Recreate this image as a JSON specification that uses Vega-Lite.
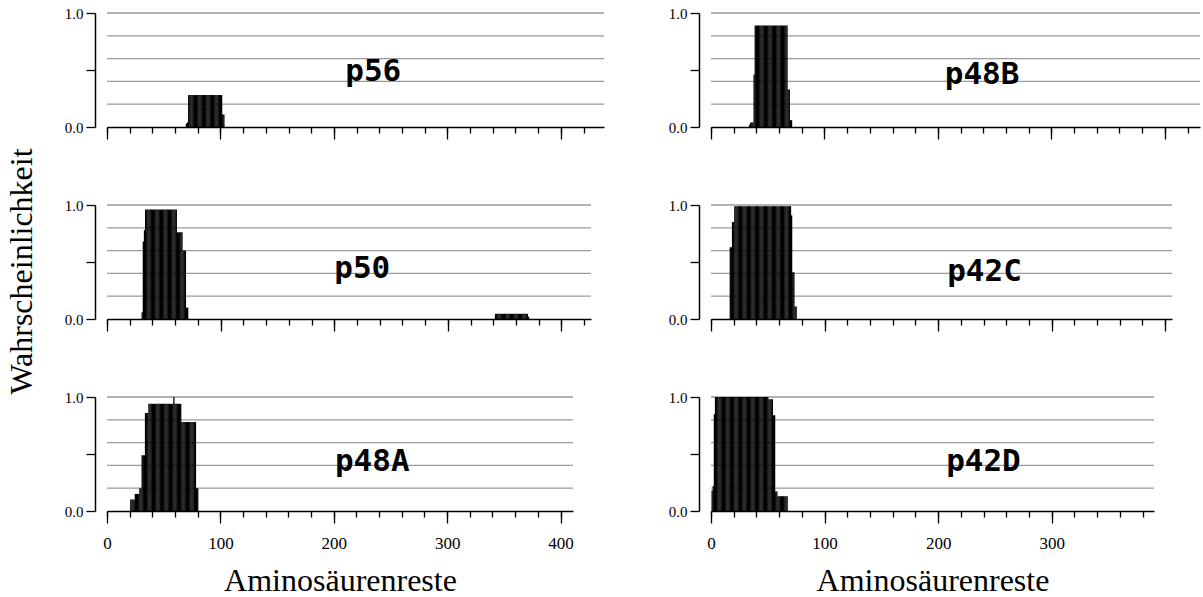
{
  "$schema": "https://vega.github.io/schema/vega-lite/v6.json",
  "padding": {"left": 5, "top": 6, "right": 0, "bottom": 0},
  "background": "white",
  "datasets": {
    "grid": [{"g": 0.2}, {"g": 0.4}, {"g": 0.6}, {"g": 0.8}, {"g": 1.0}],
    "p56": [
      {"r":70,"v":0.03},{"r":71,"v":0.04},
      {"r":72,"v":0.28},{"r":73,"v":0.28},{"r":74,"v":0.28},{"r":75,"v":0.28},{"r":76,"v":0.28},{"r":77,"v":0.28},{"r":78,"v":0.28},{"r":79,"v":0.28},{"r":80,"v":0.28},{"r":81,"v":0.28},
      {"r":82,"v":0.28},{"r":83,"v":0.28},{"r":84,"v":0.28},{"r":85,"v":0.28},{"r":86,"v":0.28},{"r":87,"v":0.28},{"r":88,"v":0.28},{"r":89,"v":0.28},{"r":90,"v":0.28},{"r":91,"v":0.28},
      {"r":92,"v":0.28},{"r":93,"v":0.28},{"r":94,"v":0.28},{"r":95,"v":0.28},{"r":96,"v":0.28},{"r":97,"v":0.28},{"r":98,"v":0.28},{"r":99,"v":0.28},{"r":100,"v":0.28},{"r":101,"v":0.28},
      {"r":102,"v":0.11},{"r":103,"v":0.11}
    ],
    "p50": [
      {"r":31,"v":0.06},{"r":32,"v":0.68},{"r":33,"v":0.78},
      {"r":34,"v":0.96},{"r":35,"v":0.96},{"r":36,"v":0.96},{"r":37,"v":0.96},{"r":38,"v":0.96},{"r":39,"v":0.96},{"r":40,"v":0.96},{"r":41,"v":0.96},{"r":42,"v":0.96},{"r":43,"v":0.96},
      {"r":44,"v":0.96},{"r":45,"v":0.96},{"r":46,"v":0.96},{"r":47,"v":0.96},{"r":48,"v":0.96},{"r":49,"v":0.96},{"r":50,"v":0.96},{"r":51,"v":0.96},{"r":52,"v":0.96},{"r":53,"v":0.96},
      {"r":54,"v":0.96},{"r":55,"v":0.96},{"r":56,"v":0.96},{"r":57,"v":0.96},{"r":58,"v":0.96},{"r":59,"v":0.96},{"r":60,"v":0.96},{"r":61,"v":0.96},
      {"r":62,"v":0.76},{"r":63,"v":0.76},{"r":64,"v":0.76},{"r":65,"v":0.76},{"r":66,"v":0.76},
      {"r":67,"v":0.6},{"r":68,"v":0.6},{"r":69,"v":0.6},
      {"r":70,"v":0.1},{"r":71,"v":0.1},
      {"r":342,"v":0.045},{"r":343,"v":0.045},{"r":344,"v":0.045},{"r":345,"v":0.045},{"r":346,"v":0.045},{"r":347,"v":0.045},{"r":348,"v":0.045},{"r":349,"v":0.045},{"r":350,"v":0.045},{"r":351,"v":0.045},
      {"r":352,"v":0.045},{"r":353,"v":0.045},{"r":354,"v":0.045},{"r":355,"v":0.045},{"r":356,"v":0.045},{"r":357,"v":0.045},{"r":358,"v":0.045},{"r":359,"v":0.045},{"r":360,"v":0.045},{"r":361,"v":0.045},
      {"r":362,"v":0.045},{"r":363,"v":0.045},{"r":364,"v":0.045},{"r":365,"v":0.045},{"r":366,"v":0.045},{"r":367,"v":0.045},{"r":368,"v":0.045},{"r":369,"v":0.045},{"r":370,"v":0.045},
      {"r":371,"v":0.02}
    ],
    "p48A": [
      {"r":21,"v":0.1},{"r":22,"v":0.1},{"r":23,"v":0.1},{"r":24,"v":0.1},
      {"r":25,"v":0.15},{"r":26,"v":0.15},{"r":27,"v":0.15},{"r":28,"v":0.15},
      {"r":29,"v":0.2},{"r":30,"v":0.2},
      {"r":31,"v":0.49},{"r":32,"v":0.49},{"r":33,"v":0.49},
      {"r":34,"v":0.86},{"r":35,"v":0.86},{"r":36,"v":0.86},
      {"r":37,"v":0.94},{"r":38,"v":0.94},{"r":39,"v":0.94},{"r":40,"v":0.94},{"r":41,"v":0.94},{"r":42,"v":0.94},{"r":43,"v":0.94},{"r":44,"v":0.94},{"r":45,"v":0.94},{"r":46,"v":0.94},
      {"r":47,"v":0.94},{"r":48,"v":0.94},{"r":49,"v":0.94},{"r":50,"v":0.94},{"r":51,"v":0.94},{"r":52,"v":0.94},{"r":53,"v":0.94},{"r":54,"v":0.94},{"r":55,"v":0.94},{"r":56,"v":0.94},
      {"r":57,"v":0.94},{"r":58,"v":0.94},{"r":59,"v":1.0},{"r":60,"v":0.94},{"r":61,"v":0.94},{"r":62,"v":0.94},{"r":63,"v":0.94},{"r":64,"v":0.94},{"r":65,"v":0.94},
      {"r":66,"v":0.78},{"r":67,"v":0.78},{"r":68,"v":0.78},{"r":69,"v":0.78},{"r":70,"v":0.78},{"r":71,"v":0.78},{"r":72,"v":0.78},{"r":73,"v":0.78},{"r":74,"v":0.78},{"r":75,"v":0.78},
      {"r":76,"v":0.78},{"r":77,"v":0.78},{"r":78,"v":0.78},
      {"r":79,"v":0.2},{"r":80,"v":0.2}
    ],
    "p48B": [
      {"r":34,"v":0.02},{"r":35,"v":0.04},{"r":36,"v":0.04},{"r":37,"v":0.04},{"r":38,"v":0.46},
      {"r":39,"v":0.89},{"r":40,"v":0.89},{"r":41,"v":0.89},{"r":42,"v":0.89},{"r":43,"v":0.89},{"r":44,"v":0.89},{"r":45,"v":0.89},{"r":46,"v":0.89},{"r":47,"v":0.89},{"r":48,"v":0.89},
      {"r":49,"v":0.89},{"r":50,"v":0.89},{"r":51,"v":0.89},{"r":52,"v":0.89},{"r":53,"v":0.89},{"r":54,"v":0.89},{"r":55,"v":0.89},{"r":56,"v":0.89},{"r":57,"v":0.89},{"r":58,"v":0.89},
      {"r":59,"v":0.89},{"r":60,"v":0.89},{"r":61,"v":0.89},{"r":62,"v":0.89},{"r":63,"v":0.89},{"r":64,"v":0.89},{"r":65,"v":0.89},{"r":66,"v":0.89},{"r":67,"v":0.89},
      {"r":68,"v":0.33},{"r":69,"v":0.33},{"r":70,"v":0.06},{"r":71,"v":0.06}
    ],
    "p42C": [
      {"r":17,"v":0.63},{"r":18,"v":0.63},{"r":19,"v":0.85},{"r":20,"v":0.85},
      {"r":21,"v":0.99},{"r":22,"v":0.99},{"r":23,"v":0.99},{"r":24,"v":0.99},{"r":25,"v":0.99},{"r":26,"v":0.99},{"r":27,"v":0.99},{"r":28,"v":0.99},{"r":29,"v":0.99},{"r":30,"v":0.99},
      {"r":31,"v":0.99},{"r":32,"v":0.99},{"r":33,"v":0.99},{"r":34,"v":0.99},{"r":35,"v":0.99},{"r":36,"v":0.99},{"r":37,"v":0.99},{"r":38,"v":0.99},{"r":39,"v":0.99},{"r":40,"v":0.99},
      {"r":41,"v":0.99},{"r":42,"v":0.99},{"r":43,"v":0.99},{"r":44,"v":0.99},{"r":45,"v":0.99},{"r":46,"v":0.99},{"r":47,"v":0.99},{"r":48,"v":0.99},{"r":49,"v":0.99},{"r":50,"v":0.99},
      {"r":51,"v":0.99},{"r":52,"v":0.99},{"r":53,"v":0.99},{"r":54,"v":0.99},{"r":55,"v":0.99},{"r":56,"v":0.99},{"r":57,"v":0.99},{"r":58,"v":0.99},{"r":59,"v":0.99},{"r":60,"v":0.99},
      {"r":61,"v":0.99},{"r":62,"v":0.99},{"r":63,"v":0.99},{"r":64,"v":0.99},{"r":65,"v":0.99},{"r":66,"v":0.99},{"r":67,"v":0.99},{"r":68,"v":0.99},{"r":69,"v":0.99},{"r":70,"v":0.99},
      {"r":71,"v":0.91},{"r":72,"v":0.41},{"r":73,"v":0.41},{"r":74,"v":0.11},{"r":75,"v":0.11}
    ],
    "p42D": [
      {"r":1,"v":0.18},{"r":2,"v":0.22},{"r":3,"v":0.85},
      {"r":4,"v":1.0},{"r":5,"v":1.0},{"r":6,"v":1.0},{"r":7,"v":1.0},{"r":8,"v":1.0},{"r":9,"v":1.0},{"r":10,"v":1.0},{"r":11,"v":1.0},{"r":12,"v":1.0},{"r":13,"v":1.0},
      {"r":14,"v":1.0},{"r":15,"v":1.0},{"r":16,"v":1.0},{"r":17,"v":1.0},{"r":18,"v":1.0},{"r":19,"v":1.0},{"r":20,"v":1.0},{"r":21,"v":1.0},{"r":22,"v":1.0},{"r":23,"v":1.0},
      {"r":24,"v":1.0},{"r":25,"v":1.0},{"r":26,"v":1.0},{"r":27,"v":1.0},{"r":28,"v":1.0},{"r":29,"v":1.0},{"r":30,"v":1.0},{"r":31,"v":1.0},{"r":32,"v":1.0},{"r":33,"v":1.0},
      {"r":34,"v":1.0},{"r":35,"v":1.0},{"r":36,"v":1.0},{"r":37,"v":1.0},{"r":38,"v":1.0},{"r":39,"v":1.0},{"r":40,"v":1.0},{"r":41,"v":1.0},{"r":42,"v":1.0},{"r":43,"v":1.0},
      {"r":44,"v":1.0},{"r":45,"v":1.0},{"r":46,"v":1.0},{"r":47,"v":1.0},{"r":48,"v":1.0},{"r":49,"v":1.0},{"r":50,"v":1.0},
      {"r":51,"v":0.98},{"r":52,"v":0.98},{"r":53,"v":0.98},{"r":54,"v":0.98},
      {"r":55,"v":0.84},{"r":56,"v":0.84},{"r":57,"v":0.17},{"r":58,"v":0.17},
      {"r":59,"v":0.13},{"r":60,"v":0.13},{"r":61,"v":0.13},{"r":62,"v":0.13},{"r":63,"v":0.13},{"r":64,"v":0.13},{"r":65,"v":0.13},{"r":66,"v":0.13},{"r":67,"v":0.13}
    ]
  },
  "columns": 2,
  "align": "each",
  "bounds": "flush",
  "spacing": {"row": 78, "column": 107},
  "concat": [
    {
      "width": 497, "height": 114,
      "resolve": {"axis": {"x": "independent"}},
      "layer": [
        {"data": {"name": "grid"}, "mark": {"type": "rule", "color": "#9a9a9a", "strokeWidth": 1.3},
         "encoding": {"y": {"field": "g", "type": "quantitative", "scale": {"domain": [0, 1], "nice": false},
                            "axis": {"values": [0, 0.5, 1], "title": null}}}},
        {"data": {"name": "p56"}, "mark": {"type": "rule", "color": "black", "strokeWidth": 1.3},
         "encoding": {
           "x": {"field": "r", "type": "quantitative", "scale": {"domain": [0, 438], "nice": false, "zero": false},
                 "axis": {"orient": "bottom", "values": [0,20,40,60,80,100,120,140,160,180,200,220,240,260,280,300,320,340,360,380,400,420], "labels": false, "title": null, "tickSize": 6}},
           "y": {"field": "v", "type": "quantitative"},
           "y2": {"datum": 0}}},
        {"data": {"values": [{"name": "p56"}]},
         "mark": {"type": "text", "font": "DejaVu Sans Mono", "fontWeight": "bold", "fontSize": 31, "align": "left", "baseline": "alphabetic", "color": "black"},
         "encoding": {"x": {"datum": 210, "type": "quantitative",
                            "axis": {"orient": "bottom", "values": [0,100,200,300,400], "labels": false, "title": null, "tickSize": 12, "domain": false}},
                      "y": {"datum": 0.4, "type": "quantitative"}, "text": {"field": "name"}}}
      ]
    },
    {
      "width": 489, "height": 114,
      "resolve": {"axis": {"x": "independent"}},
      "layer": [
        {"data": {"name": "grid"}, "mark": {"type": "rule", "color": "#9a9a9a", "strokeWidth": 1.3},
         "encoding": {"y": {"field": "g", "type": "quantitative", "scale": {"domain": [0, 1], "nice": false},
                            "axis": {"values": [0, 0.5, 1], "title": null}}}},
        {"data": {"name": "p48B"}, "mark": {"type": "rule", "color": "black", "strokeWidth": 1.3},
         "encoding": {
           "x": {"field": "r", "type": "quantitative", "scale": {"domain": [0, 431], "nice": false, "zero": false},
                 "axis": {"orient": "bottom", "values": [0,20,40,60,80,100,120,140,160,180,200,220,240,260,280,300,320,340,360,380,400,420], "labels": false, "title": null, "tickSize": 6}},
           "y": {"field": "v", "type": "quantitative"},
           "y2": {"datum": 0}}},
        {"data": {"values": [{"name": "p48B"}]},
         "mark": {"type": "text", "font": "DejaVu Sans Mono", "fontWeight": "bold", "fontSize": 31, "align": "left", "baseline": "alphabetic", "color": "black"},
         "encoding": {"x": {"datum": 206, "type": "quantitative",
                            "axis": {"orient": "bottom", "values": [0,100,200,300,400], "labels": false, "title": null, "tickSize": 12, "domain": false}},
                      "y": {"datum": 0.38, "type": "quantitative"}, "text": {"field": "name"}}}
      ]
    },
    {
      "width": 484, "height": 114,
      "resolve": {"axis": {"x": "independent"}},
      "layer": [
        {"data": {"name": "grid"}, "mark": {"type": "rule", "color": "#9a9a9a", "strokeWidth": 1.3},
         "encoding": {"y": {"field": "g", "type": "quantitative", "scale": {"domain": [0, 1], "nice": false},
                            "axis": {"values": [0, 0.5, 1], "title": "Wahrscheinlichkeit", "titleFontSize": 32, "titlePadding": 26, "titleY": 66}}}},
        {"data": {"name": "p50"}, "mark": {"type": "rule", "color": "black", "strokeWidth": 1.3},
         "encoding": {
           "x": {"field": "r", "type": "quantitative", "scale": {"domain": [0, 426], "nice": false, "zero": false},
                 "axis": {"orient": "bottom", "values": [0,20,40,60,80,100,120,140,160,180,200,220,240,260,280,300,320,340,360,380,400,420], "labels": false, "title": null, "tickSize": 6}},
           "y": {"field": "v", "type": "quantitative"},
           "y2": {"datum": 0}}},
        {"data": {"values": [{"name": "p50"}]},
         "mark": {"type": "text", "font": "DejaVu Sans Mono", "fontWeight": "bold", "fontSize": 31, "align": "left", "baseline": "alphabetic", "color": "black"},
         "encoding": {"x": {"datum": 200, "type": "quantitative",
                            "axis": {"orient": "bottom", "values": [0,100,200,300,400], "labels": false, "title": null, "tickSize": 12, "domain": false}},
                      "y": {"datum": 0.36, "type": "quantitative"}, "text": {"field": "name"}}}
      ]
    },
    {
      "width": 461, "height": 114,
      "resolve": {"axis": {"x": "independent"}},
      "layer": [
        {"data": {"name": "grid"}, "mark": {"type": "rule", "color": "#9a9a9a", "strokeWidth": 1.3},
         "encoding": {"y": {"field": "g", "type": "quantitative", "scale": {"domain": [0, 1], "nice": false},
                            "axis": {"values": [0, 0.5, 1], "title": null}}}},
        {"data": {"name": "p42C"}, "mark": {"type": "rule", "color": "black", "strokeWidth": 1.3},
         "encoding": {
           "x": {"field": "r", "type": "quantitative", "scale": {"domain": [0, 406], "nice": false, "zero": false},
                 "axis": {"orient": "bottom", "values": [0,20,40,60,80,100,120,140,160,180,200,220,240,260,280,300,320,340,360,380,400], "labels": false, "title": null, "tickSize": 6}},
           "y": {"field": "v", "type": "quantitative"},
           "y2": {"datum": 0}}},
        {"data": {"values": [{"name": "p42C"}]},
         "mark": {"type": "text", "font": "DejaVu Sans Mono", "fontWeight": "bold", "fontSize": 31, "align": "left", "baseline": "alphabetic", "color": "black"},
         "encoding": {"x": {"datum": 208, "type": "quantitative",
                            "axis": {"orient": "bottom", "values": [0,100,200,300,400], "labels": false, "title": null, "tickSize": 12, "domain": false}},
                      "y": {"datum": 0.33, "type": "quantitative"}, "text": {"field": "name"}}}
      ]
    },
    {
      "width": 466, "height": 114,
      "resolve": {"axis": {"x": "independent"}},
      "layer": [
        {"data": {"name": "grid"}, "mark": {"type": "rule", "color": "#9a9a9a", "strokeWidth": 1.3},
         "encoding": {"y": {"field": "g", "type": "quantitative", "scale": {"domain": [0, 1], "nice": false},
                            "axis": {"values": [0, 0.5, 1], "title": null}}}},
        {"data": {"name": "p48A"}, "mark": {"type": "rule", "color": "black", "strokeWidth": 1.3},
         "encoding": {
           "x": {"field": "r", "type": "quantitative", "scale": {"domain": [0, 411], "nice": false, "zero": false},
                 "axis": {"orient": "bottom", "values": [0,20,40,60,80,100,120,140,160,180,200,220,240,260,280,300,320,340,360,380,400], "labels": false, "title": null, "tickSize": 6}},
           "y": {"field": "v", "type": "quantitative"},
           "y2": {"datum": 0}}},
        {"data": {"values": [{"name": "p48A"}]},
         "mark": {"type": "text", "font": "DejaVu Sans Mono", "fontWeight": "bold", "fontSize": 31, "align": "left", "baseline": "alphabetic", "color": "black"},
         "encoding": {"x": {"datum": 201, "type": "quantitative",
                            "axis": {"orient": "bottom", "values": [0,100,200,300,400], "tickSize": 12, "domain": false, "labelPadding": 12,
                                     "title": "Aminosäurenreste", "titleFontSize": 32, "titlePadding": 14}},
                      "y": {"datum": 0.35, "type": "quantitative"}, "text": {"field": "name"}}}
      ]
    },
    {
      "width": 443, "height": 114,
      "resolve": {"axis": {"x": "independent"}},
      "layer": [
        {"data": {"name": "grid"}, "mark": {"type": "rule", "color": "#9a9a9a", "strokeWidth": 1.3},
         "encoding": {"y": {"field": "g", "type": "quantitative", "scale": {"domain": [0, 1], "nice": false},
                            "axis": {"values": [0, 0.5, 1], "title": null}}}},
        {"data": {"name": "p42D"}, "mark": {"type": "rule", "color": "black", "strokeWidth": 1.3},
         "encoding": {
           "x": {"field": "r", "type": "quantitative", "scale": {"domain": [0, 390], "nice": false, "zero": false},
                 "axis": {"orient": "bottom", "values": [0,20,40,60,80,100,120,140,160,180,200,220,240,260,280,300,320,340,360,380], "labels": false, "title": null, "tickSize": 6}},
           "y": {"field": "v", "type": "quantitative"},
           "y2": {"datum": 0}}},
        {"data": {"values": [{"name": "p42D"}]},
         "mark": {"type": "text", "font": "DejaVu Sans Mono", "fontWeight": "bold", "fontSize": 31, "align": "left", "baseline": "alphabetic", "color": "black"},
         "encoding": {"x": {"datum": 207, "type": "quantitative",
                            "axis": {"orient": "bottom", "values": [0,100,200,300], "tickSize": 12, "domain": false, "labelPadding": 12,
                                     "title": "Aminosäurenreste", "titleFontSize": 32, "titlePadding": 14}},
                      "y": {"datum": 0.35, "type": "quantitative"}, "text": {"field": "name"}}}
      ]
    }
  ],
  "config": {
    "view": {"stroke": null},
    "font": "Liberation Serif",
    "axisX": {
      "grid": false,
      "domainColor": "black", "domainWidth": 1.5,
      "tickColor": "black", "tickWidth": 1.3,
      "labelFont": "Liberation Serif", "labelFontSize": 17, "labelColor": "black",
      "labelFlush": false, "labelOverlap": false,
      "titleFont": "Liberation Serif", "titleFontWeight": "normal", "titleColor": "black"
    },
    "axisY": {
      "grid": false,
      "offset": 12,
      "domainColor": "black", "domainWidth": 1.5,
      "tickColor": "black", "tickWidth": 1.3, "tickSize": 9,
      "labelFont": "Liberation Serif", "labelFontSize": 15, "labelColor": "black",
      "labelPadding": 3,
      "labelExpr": "datum.value === 0.5 ? '' : format(datum.value, '.1f')",
      "titleFont": "Liberation Serif", "titleFontWeight": "normal", "titleColor": "black"
    }
  }
}
